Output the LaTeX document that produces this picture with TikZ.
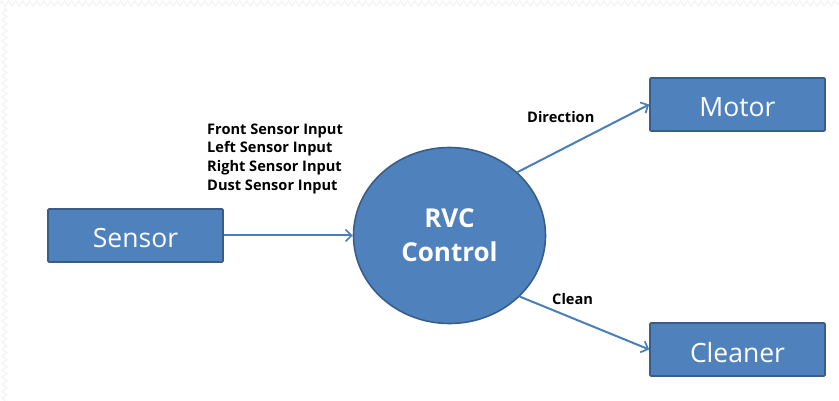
\documentclass[tikz,border=0pt]{standalone}
\usepackage{fontspec}
\setmainfont{Open Sans}
\usetikzlibrary{arrows.meta,shapes.geometric,decorations.pathmorphing}

\definecolor{boxfill}{HTML}{4F81BD}
\definecolor{boxline}{HTML}{385D8A}
\definecolor{flow}{HTML}{4A7EBB}
\definecolor{edgepat}{HTML}{F3F3F3}

\tikzset{
  blockbox/.style={draw=boxline, line width=1.6pt, fill=boxfill, rounded corners=1pt,
    minimum width=175pt, minimum height=53pt, inner sep=0pt},
  boxtext/.style={draw=none, fill=none, text=white, inner sep=0pt,
    font=\fontsize{26.5}{30}\selectfont},
  process/.style={ellipse, draw=boxline, line width=1.6pt, fill=boxfill,
    minimum width=192pt, minimum height=176pt, inner sep=0pt,
    text=white, align=center, font=\bfseries\fontsize{26}{34}\selectfont},
  flowline/.style={draw=flow, line width=2pt,
    -{Straight Barb[length=6pt,width=12pt,line width=1.7pt]}},
  flowlabel/.style={inner sep=0pt, anchor=west, text=black,
    font=\bfseries\fontsize{14.6}{18.7}\selectfont},
  zig/.style={draw=edgepat, line width=1.2pt,
    decorate, decoration={zigzag, segment length=7pt, amplitude=2.5pt}}
}

\begin{document}
\begin{tikzpicture}[x=1pt, y=-1pt]
  \useasboundingbox (0,0) rectangle (839,401);

  % faint patterned edge along the top and left
  \draw[zig] (0,3.5) -- (839,3.5);
  \draw[zig] (4.5,8) -- (4.5,401);

  % blocks (labels set a touch lower than the geometric centre)
  \node[blockbox] (sensor)  at (135.5,235.5) {};
  \node[blockbox] (motor)   at (737.5,104.5) {};
  \node[blockbox] (cleaner) at (737.5,349.5) {};
  \node[boxtext] (sensorlbl)  at ([yshift=-3pt]sensor.center)  {Sensor};
  \node[boxtext] (motorlbl)   at ([yshift=-3pt]motor.center)   {Motor};
  \node[boxtext] (cleanerlbl) at ([yshift=-3pt]cleaner.center) {Cleaner};
  \node[process]  (rvc)     at (449.5,235.5) {RVC\\Control};

  % flows
  \draw[flowline] (sensor.east) -- (rvc.west);
  \draw[flowline] (rvc.43) -- (motor.west);
  \draw[flowline] (rvc.-41.5) -- (cleaner.west);

  % flow labels
  \node[flowlabel, align=left, anchor=north west] (inputs) at (207,123.5)
    {Front Sensor Input\\Left Sensor Input\\Right Sensor Input\\Dust Sensor Input};
  \node[flowlabel] (dir)   at (527,117) {Direction};
  \node[flowlabel] (clean) at (552,299) {Clean};
\end{tikzpicture}
\end{document}
